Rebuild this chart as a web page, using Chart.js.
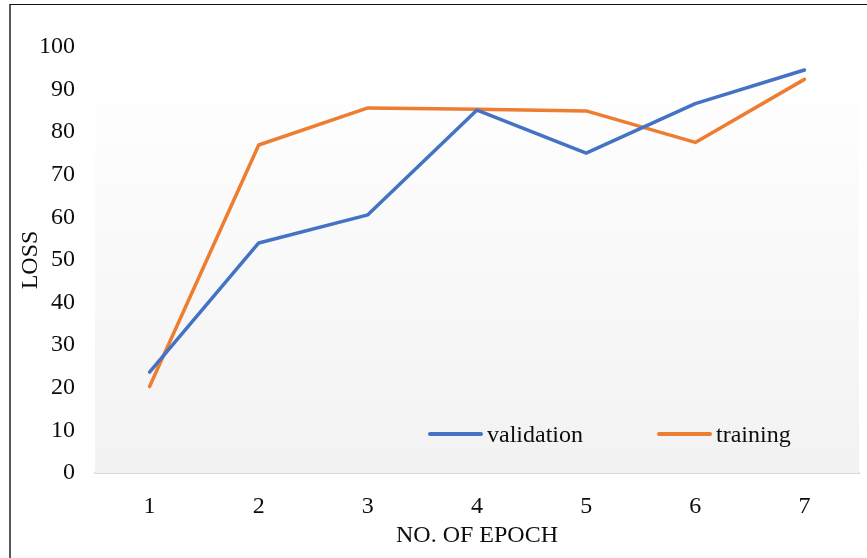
<!DOCTYPE html>
<html>
<head>
<meta charset="utf-8">
<script src="https://cdn.jsdelivr.net/npm/chart.js@4/dist/chart.umd.min.js"></script>
<style>
  html, body { margin: 0; padding: 0; background: #fff; }
  #wrap { position: relative; width: 867px; height: 558px; overflow: hidden; font-family: "Liberation Serif", "Times New Roman", serif; }
  #frame { position: absolute; left: 9px; top: 4px; width: 900px; height: 600px; border-left: 2px solid #595959; border-top: 1.5px solid #111; pointer-events: none; }
  #legend { position: absolute; top: 419px; left: 0; font-size: 24px; color: #0d0d0d; }
  .item { position: absolute; white-space: nowrap; display: flex; align-items: center; height: 30px; }
  .swatch { display: inline-block; width: 55px; height: 4px; border-radius: 2px; margin-right: 4px; }
</style>
</head>
<body>
<div id="wrap">
  <canvas id="chart" width="867" height="558"></canvas>
  <div id="legend"></div>
  <div id="frame"></div>
</div>
<script>
const epochs = ['1', '2', '3', '4', '5', '6', '7'];
const seriesNames = ['validation', 'training'];
const validation = [23.7, 54.0, 60.6, 85.2, 75.1, 86.7, 94.6];
const training = [20.3, 77.0, 85.7, 85.4, 85.0, 77.6, 92.4];
const colors = ['#4472C4', '#ED7D31'];

const FONT = "'Liberation Serif', 'Times New Roman', serif";
const TEXT = '#0d0d0d';

// soft grey gradient behind the lower part of the plot
const plotBg = {
  id: 'plotBg',
  beforeDatasetsDraw(chart) {
    const { ctx, chartArea } = chart;
    const y = chart.scales.y;
    const top = y.getPixelForValue(87.6);
    const g = ctx.createLinearGradient(0, top, 0, chartArea.bottom);
    g.addColorStop(0, '#fefefe');
    g.addColorStop(1, '#f2f2f2');
    ctx.save();
    ctx.fillStyle = g;
    ctx.fillRect(chartArea.left, top, chartArea.right - chartArea.left, chartArea.bottom - top);
    ctx.restore();
  }
};

function buildLegend() {
  const box = document.getElementById('legend');
  const lefts = [428, 657];
  box.innerHTML = seriesNames.map((n, i) =>
    `<div class="item" style="left:${lefts[i]}px"><span class="swatch" style="background:${colors[i]}"></span>${n}</div>`
  ).join('');
}

function init() {
  const ctx = document.getElementById('chart').getContext('2d');
  new Chart(ctx, {
    type: 'line',
    data: {
      labels: epochs,
      datasets: [
        { label: seriesNames[0], data: validation, borderColor: colors[0], backgroundColor: colors[0] },
        { label: seriesNames[1], data: training, borderColor: colors[1], backgroundColor: colors[1] }
      ]
    },
    options: {
      responsive: false,
      animation: false,
      layout: { padding: { top: 47, right: 8, left: 0, bottom: 0 } },
      elements: {
        line: { borderWidth: 3.5, tension: 0, borderCapStyle: 'round', borderJoinStyle: 'round' },
        point: { radius: 0, hoverRadius: 0 }
      },
      plugins: { legend: { display: false }, tooltip: { enabled: false } },
      scales: {
        x: {
          offset: true,
          grid: { display: false, drawTicks: false },
          border: { display: true, color: '#d9d9d9', width: 2 },
          ticks: { color: TEXT, font: { family: FONT, size: 24 }, padding: 19 },
          title: { display: true, text: 'NO. OF EPOCH', color: TEXT, font: { family: FONT, size: 24 }, padding: { top: 0, bottom: 8 } },
          afterFit(s) { s.height = 85; }
        },
        y: {
          min: 0, max: 100,
          grid: { display: false, drawTicks: false },
          border: { display: false },
          ticks: { stepSize: 10, color: TEXT, font: { family: FONT, size: 24 }, padding: 20 },
          title: { display: true, text: 'LOSS', color: TEXT, font: { family: FONT, size: 24 }, padding: { top: 16, bottom: 0 } },
          afterFit(s) { s.width = 95; }
        }
      }
    },
    plugins: [plotBg]
  });
  buildLegend();
}
init();
</script>
</body>
</html>
